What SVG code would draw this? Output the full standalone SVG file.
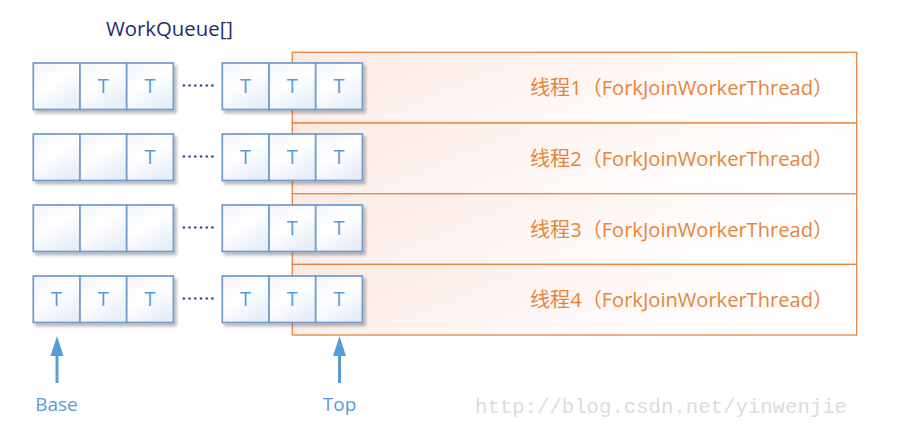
<svg xmlns="http://www.w3.org/2000/svg" width="920" height="433" viewBox="0 0 920 433">
  <defs>
    <linearGradient id="cellGrad" x1="0" y1="0" x2="0.6" y2="1">
      <stop offset="0" stop-color="#F1F5FB"/>
      <stop offset="0.5" stop-color="#FFFFFF"/>
      <stop offset="1" stop-color="#E8EEF8"/>
    </linearGradient>
    <linearGradient id="orangeGrad" x1="0" y1="0" x2="1" y2="0.3">
      <stop offset="0" stop-color="#FCE9E4"/>
      <stop offset="0.6" stop-color="#FEF7F5"/>
      <stop offset="1" stop-color="#FFFFFF"/>
    </linearGradient>
    <filter id="shadow" x="-10%" y="-10%" width="130%" height="140%">
      <feDropShadow dx="2.5" dy="3" stdDeviation="1.6" flood-color="#000" flood-opacity="0.28"/>
    </filter>
  </defs>
  <style>
    .cell { fill: url(#cellGrad); stroke: #6F9BCC; stroke-width: 1.7; }
    .t { font-family: "Open Sans", "Noto Sans", sans-serif; font-size: 20px; fill: #5B9BD5; text-anchor: middle; }
    .thread { fill: url(#orangeGrad); stroke: #E4853F; stroke-width: 1.3; }
    .tlabel { font-family: "Open Sans", "Noto Sans CJK SC", sans-serif; font-size: 20px; fill: #E9833A; }
    .dots { stroke: #243A8A; stroke-width: 2.2; stroke-dasharray: 2.4 3.3; }
    .arrow { stroke: #5B9BD5; stroke-width: 3; fill: none; }
    .head { fill: #5B9BD5; }
    .lbl { font-family: "Open Sans", "Noto Sans", sans-serif; font-size: 19px; fill: #5B9BD5; text-anchor: middle; }
  </style>
  <rect width="920" height="433" fill="#FFFFFF"/>

  <text id="title" x="106" y="36" font-family="Open Sans, Noto Sans, sans-serif" font-size="20" fill="#1F2D6B" textLength="127" lengthAdjust="spacingAndGlyphs">WorkQueue[]</text>

  <!-- threads -->
  <g id="thread1">
    <rect class="thread" x="292.3" y="52.3" width="564.4" height="70.7"/>
    <text class="tlabel" x="530" y="95" textLength="303" lengthAdjust="spacingAndGlyphs">线程1（ForkJoinWorkerThread）</text>
  </g>
  <g id="thread2">
    <rect class="thread" x="292.3" y="123" width="564.4" height="70.7"/>
    <text class="tlabel" x="530" y="166" textLength="303" lengthAdjust="spacingAndGlyphs">线程2（ForkJoinWorkerThread）</text>
  </g>
  <g id="thread3">
    <rect class="thread" x="292.3" y="193.7" width="564.4" height="70.7"/>
    <text class="tlabel" x="530" y="236.5" textLength="303" lengthAdjust="spacingAndGlyphs">线程3（ForkJoinWorkerThread）</text>
  </g>
  <g id="thread4">
    <rect class="thread" x="292.3" y="264.4" width="564.4" height="70.6"/>
    <text class="tlabel" x="530" y="307" textLength="303" lengthAdjust="spacingAndGlyphs">线程4（ForkJoinWorkerThread）</text>
  </g>

  <!-- queue 1 -->
  <g id="queue1">
    <g filter="url(#shadow)">
      <rect class="cell" x="33.3" y="63" width="46.7" height="46.5"/>
      <rect class="cell" x="80" y="63" width="46.7" height="46.5"/>
      <rect class="cell" x="126.7" y="63" width="46.7" height="46.5"/>
      <rect class="cell" x="222.3" y="63" width="46.7" height="46.5"/>
      <rect class="cell" x="269" y="63" width="46.7" height="46.5"/>
      <rect class="cell" x="315.7" y="63" width="46.7" height="46.5"/>
    </g>
    <text class="t" x="103.3" y="93">T</text>
    <text class="t" x="150" y="93">T</text>
    <text class="t" x="245.6" y="93">T</text>
    <text class="t" x="292.3" y="93">T</text>
    <text class="t" x="339" y="93">T</text>
    <line class="dots" x1="182.7" y1="85.5" x2="215" y2="85.5"/>
  </g>

  <!-- queue 2 -->
  <g id="queue2">
    <g filter="url(#shadow)">
      <rect class="cell" x="33.3" y="134" width="46.7" height="46.5"/>
      <rect class="cell" x="80" y="134" width="46.7" height="46.5"/>
      <rect class="cell" x="126.7" y="134" width="46.7" height="46.5"/>
      <rect class="cell" x="222.3" y="134" width="46.7" height="46.5"/>
      <rect class="cell" x="269" y="134" width="46.7" height="46.5"/>
      <rect class="cell" x="315.7" y="134" width="46.7" height="46.5"/>
    </g>
    <text class="t" x="150" y="164">T</text>
    <text class="t" x="245.6" y="164">T</text>
    <text class="t" x="292.3" y="164">T</text>
    <text class="t" x="339" y="164">T</text>
    <line class="dots" x1="182.7" y1="156.5" x2="215" y2="156.5"/>
  </g>

  <!-- queue 3 -->
  <g id="queue3">
    <g filter="url(#shadow)">
      <rect class="cell" x="33.3" y="205" width="46.7" height="46.5"/>
      <rect class="cell" x="80" y="205" width="46.7" height="46.5"/>
      <rect class="cell" x="126.7" y="205" width="46.7" height="46.5"/>
      <rect class="cell" x="222.3" y="205" width="46.7" height="46.5"/>
      <rect class="cell" x="269" y="205" width="46.7" height="46.5"/>
      <rect class="cell" x="315.7" y="205" width="46.7" height="46.5"/>
    </g>
    <text class="t" x="292.3" y="235">T</text>
    <text class="t" x="339" y="235">T</text>
    <line class="dots" x1="182.7" y1="227.5" x2="215" y2="227.5"/>
  </g>

  <!-- queue 4 -->
  <g id="queue4">
    <g filter="url(#shadow)">
      <rect class="cell" x="33.3" y="276" width="46.7" height="46.5"/>
      <rect class="cell" x="80" y="276" width="46.7" height="46.5"/>
      <rect class="cell" x="126.7" y="276" width="46.7" height="46.5"/>
      <rect class="cell" x="222.3" y="276" width="46.7" height="46.5"/>
      <rect class="cell" x="269" y="276" width="46.7" height="46.5"/>
      <rect class="cell" x="315.7" y="276" width="46.7" height="46.5"/>
    </g>
    <text class="t" x="56.6" y="306">T</text>
    <text class="t" x="103.3" y="306">T</text>
    <text class="t" x="150" y="306">T</text>
    <text class="t" x="245.6" y="306">T</text>
    <text class="t" x="292.3" y="306">T</text>
    <text class="t" x="339" y="306">T</text>
    <line class="dots" x1="182.7" y1="298.5" x2="215" y2="298.5"/>
  </g>

  <!-- connectors -->
  <g id="connectors">
    <line class="arrow" x1="57" y1="383" x2="57" y2="352"/>
    <polygon class="head" points="57,336 50.5,356 63.5,356"/>
    <line class="arrow" x1="339.5" y1="383" x2="339.5" y2="352"/>
    <polygon class="head" points="339.5,336 333,356 346,356"/>
  </g>

  <g id="base-label"><text class="lbl" x="56.5" y="411">Base</text></g>
  <g id="top-label"><text class="lbl" x="339.5" y="411">Top</text></g>

  <text id="watermark" x="475" y="413" font-family="Liberation Mono, monospace" font-size="20" fill="#DCDCDC" textLength="372" lengthAdjust="spacingAndGlyphs">http://blog.csdn.net/yinwenjie</text>
</svg>
